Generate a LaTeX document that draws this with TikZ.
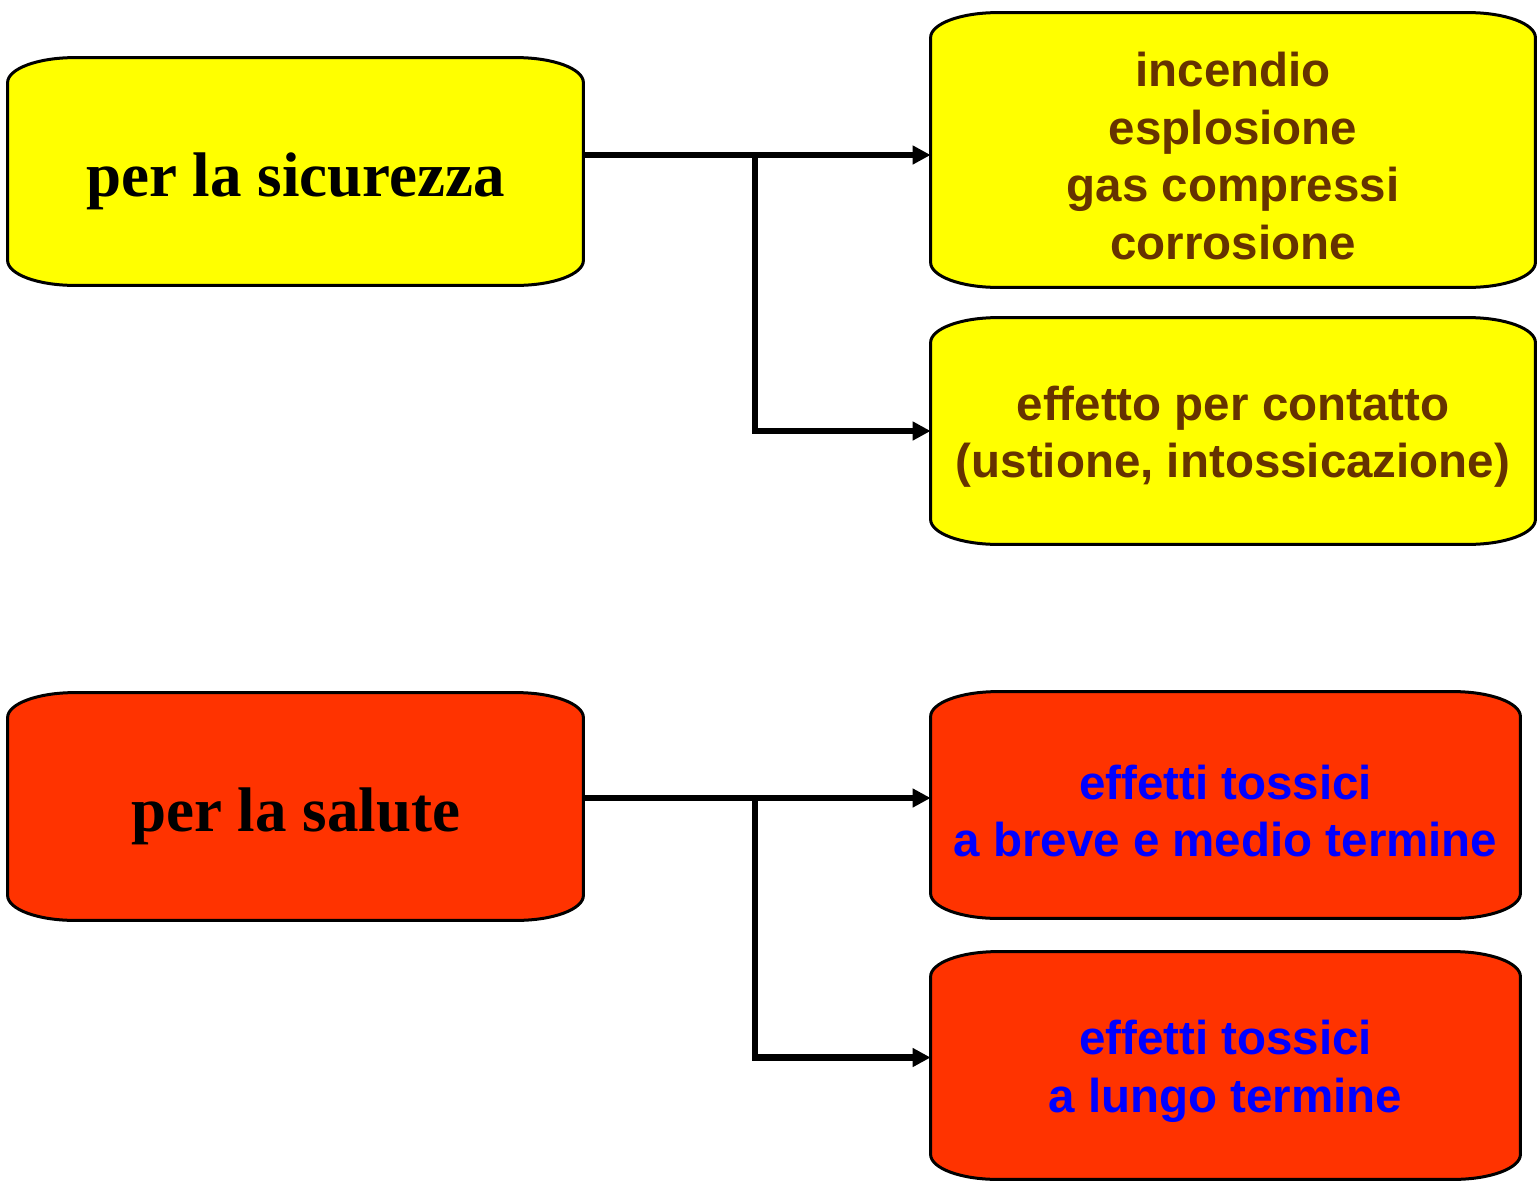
\documentclass[tikz,border=0pt]{standalone}
\usepackage{fontspec}
\setmainfont{Liberation Serif}
\setsansfont{Liberation Sans}
\usetikzlibrary{arrows.meta,backgrounds}

\definecolor{giallo}{HTML}{FFFF00}
\definecolor{rosso}{HTML}{FF3300}
\definecolor{marrone}{HTML}{663300}
\definecolor{blu}{HTML}{0000FF}

% invisible strut that lowers the first line a little
\newcommand{\topstrut}{\rule{0pt}{23pt}}

% box outline with elliptical corners, drawn behind the node text
\newcommand{\pillbox}[2]{%
  \draw[fill=#2, line width=1.5pt]
    ([xshift=33.5pt]#1.north west) -- ([xshift=-33.5pt]#1.north east)
    arc[start angle=90, end angle=0, x radius=33.5pt, y radius=12.5pt]
    -- ([yshift=12.5pt]#1.south east)
    arc[start angle=0, end angle=-90, x radius=33.5pt, y radius=12.5pt]
    -- ([xshift=33.5pt]#1.south west)
    arc[start angle=-90, end angle=-180, x radius=33.5pt, y radius=12.5pt]
    -- ([yshift=-12.5pt]#1.north west)
    arc[start angle=180, end angle=90, x radius=33.5pt, y radius=12.5pt]
    -- cycle;}

\begin{document}
\begin{tikzpicture}[x=0.5pt, y=0.5pt,
    lbox/.style={inner sep=0pt, minimum height=113.5pt,
      text height=31.3pt, text depth=6.8pt,
      font=\fontsize{31.5}{36}\selectfont\bfseries},
    rbox/.style={inner sep=0pt, align=center,
      font=\fontsize{23.75}{28.75}\selectfont\sffamily\bfseries},
    link/.style={line width=3.3pt, -{Triangle[length=9pt, width=9pt]}}]
    \useasboundingbox (0,0) rectangle (1540,-1183);

    \node[lbox, minimum width=287.5pt] (sic) at (295.5,-171.5) {per la sicurezza};
    \node[rbox, minimum width=302pt, minimum height=137pt, text=marrone] (inc) at (1233,-150)
      {\topstrut incendio\\esplosione\\gas compressi\\corrosione};
    \node[rbox, minimum width=302pt, minimum height=113pt, text=marrone] (eff) at (1233,-431)
      {\topstrut effetto per contatto\\(ustione, intossicazione)};

    \node[lbox, minimum width=287.5pt] (sal) at (295.5,-806.5) {per la salute};
    \node[rbox, minimum width=294.5pt, minimum height=113pt, text=blu] (breve) at (1225.5,-805)
      {\topstrut effetti tossici\\a breve e medio termine};
    \node[rbox, minimum width=294.5pt, minimum height=113.5pt, text=blu] (lungo) at (1225.5,-1065.5)
      {\topstrut effetti tossici\\a lungo termine};

    \begin{scope}[on background layer]
      \foreach \n/\c in {sic/giallo, inc/giallo, eff/giallo, sal/rosso, breve/rosso, lungo/rosso}
        \pillbox{\n}{\c};
    \end{scope}

    \coordinate (j1) at (755,-155);
    \coordinate (j2) at (755,-798);
    \draw[link] (sic.east |- j1) -- (inc.west |- j1);
    \draw[link] (j1) |- (eff.west);
    \draw[link] (sal.east |- j2) -- (breve.west |- j2);
    \draw[link] (j2) |- ([yshift=4pt]lungo.west);
\end{tikzpicture}
\end{document}
